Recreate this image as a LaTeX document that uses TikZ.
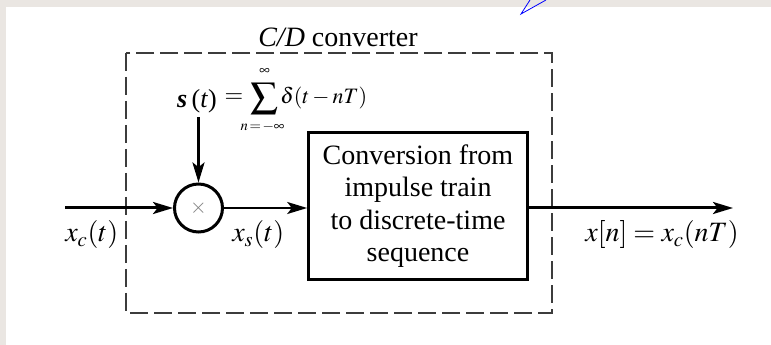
\documentclass[tikz,border=0pt]{standalone}
\usepackage{mathptmx}
\usepackage{fontspec}
\setmainfont{Liberation Serif}
\usetikzlibrary{arrows.meta}
\definecolor{framegray}{HTML}{EAE6E2}
\definecolor{dashgray}{HTML}{3C3C3C}
\begin{document}
\begin{tikzpicture}[x=0.75pt,y=-0.75pt,
  lbl/.style={inner sep=0pt, font=\fontsize{21pt}{24pt}\selectfont},
  arr/.style={-{Stealth[length=15pt,width=9pt,inset=3.5pt]}},
  heavyline/.style={line width=2.25pt},
  ]
\useasboundingbox (0,0) rectangle (771,345);
\fill[white] (0,0) rectangle (771,345);
\fill[framegray] (0,0) rectangle (771,7);
\fill[framegray] (0,0) rectangle (6,345);
\draw[blue, line width=0.6pt] (546,0) -- (521,14) -- (530,0);

\draw[dashgray, line width=1.5pt, dash pattern=on 13.5pt off 4.5pt] (126,53) rectangle (552,313);
\node[lbl, anchor=base] (title) at (338,47) {\textit{C/D} converter};

\node[circle, draw, line width=2.25pt, minimum size=36pt, inner sep=0pt] (mult) at (198.5,208) {\color{gray}\fontsize{16pt}{16pt}\selectfont$\times$};
\node[draw, line width=2.25pt, minimum width=164pt, minimum height=110pt, inner sep=0pt, align=center, font=\fontsize{21pt}{24.4pt}\selectfont] (conv) at (418,206) {Conversion from\\impulse train\\to discrete-time\\sequence};

\node[inner sep=0pt, anchor=base, font=\fontsize{19.5pt}{19.5pt}\selectfont] (st) at (197,108) {{\bfseries\itshape s}\,(\textit{t})};
\node[inner sep=0pt, font=\fontsize{18pt}{18pt}\selectfont] (eq) at (234,98) {$=$};
\node[inner sep=0pt] (sum) at (264,99) {\resizebox*{21pt}{23.5pt}{$\sum$}};
\node[inner sep=0pt, font=\fontsize{11pt}{11pt}\selectfont] (sup) at (264.5,72) {$\infty$};
\node[inner sep=0pt, font=\fontsize{11pt}{11pt}\selectfont] (sub) at (262.5,126.5) {$n\!=\!-\infty$};
\node[inner sep=0pt, anchor=base west, font=\fontsize{16.5pt}{16.5pt}\selectfont] (delta) at (280,104) {$\delta(t-nT)$};

\node[lbl, anchor=base west] (xc) at (65,242) {$x_c(t)$};
\node[lbl, anchor=base west] (xs) at (232,242) {$x_s(t)$};
\node[lbl, anchor=base west] (xn) at (585,242) {$x[n]=x_c(nT)$};

\coordinate (in) at (65,208);
\coordinate (out) at (733,208);
\coordinate (stop) at (198.5,117);
\draw[heavyline, arr] (in) -- (mult.west);
\draw[heavyline, arr] (stop) -- (mult.north);
\draw[line width=1.5pt, arr] (mult.east) -- (mult.east -| conv.west);
\draw[heavyline, arr] (mult.east -| conv.east) -- (out);
\end{tikzpicture}
\end{document}
